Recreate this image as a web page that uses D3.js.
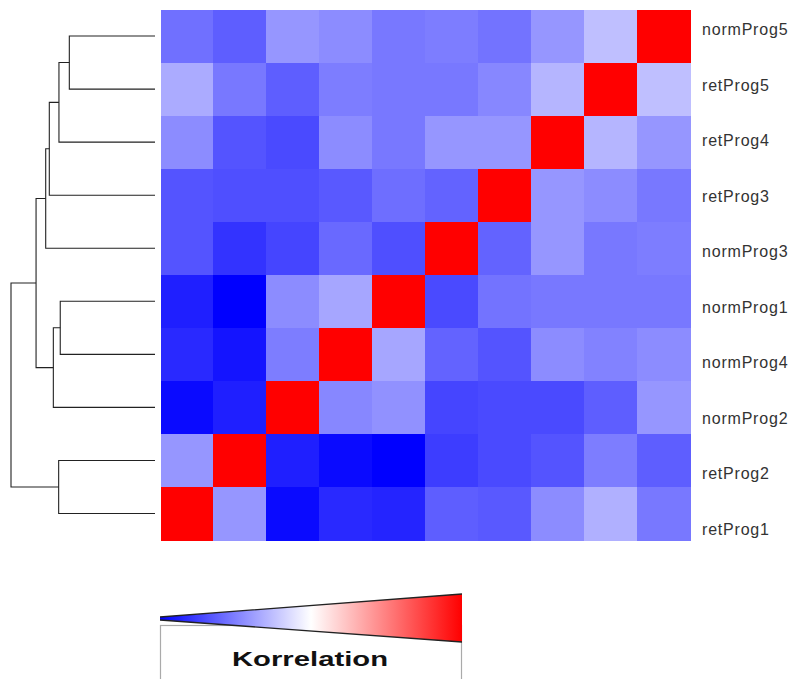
<!DOCTYPE html>
<html>
<head>
<meta charset="utf-8">
<script src="https://cdn.jsdelivr.net/npm/d3@7"></script>
<style>
  html, body { margin: 0; padding: 0; background: #fff; }
  svg { display: block; }
  text { font-family: "Liberation Sans", Arial, Helvetica, sans-serif; }
</style>
</head>
<body>
<svg id="chart" width="792" height="679"></svg>
<script>
// Sample order along the rows (top to bottom); columns run in the reverse order.
const rowNames = ["normProg5", "retProg5", "retProg4", "retProg3", "normProg3",
                  "normProg1", "normProg4", "normProg2", "retProg2", "retProg1"];
const colNames = rowNames.slice().reverse();

// Correlation values, one row per sample in rowNames order, columns in colNames order.
const normProg5 = [0.22, 0.185, 0.295, 0.275, 0.235, 0.245, 0.225, 0.295, 0.375, 1];
const retProg5  = [0.335, 0.235, 0.185, 0.245, 0.235, 0.235, 0.265, 0.355, 1, 0.375];
const retProg4  = [0.275, 0.165, 0.145, 0.275, 0.235, 0.295, 0.295, 1, 0.355, 0.295];
const retProg3  = [0.165, 0.155, 0.155, 0.175, 0.215, 0.195, 1, 0.295, 0.275, 0.235];
const normProg3 = [0.165, 0.10, 0.135, 0.205, 0.155, 1, 0.195, 0.295, 0.235, 0.245];
const normProg1 = [0.06, 0.0, 0.275, 0.325, 1, 0.145, 0.225, 0.235, 0.235, 0.235];
const normProg4 = [0.08, 0.04, 0.245, 1, 0.325, 0.195, 0.165, 0.275, 0.255, 0.275];
const normProg2 = [0.02, 0.06, 1, 0.265, 0.285, 0.135, 0.145, 0.145, 0.185, 0.295];
const retProg2  = [0.295, 1, 0.06, 0.02, 0.0, 0.12, 0.145, 0.165, 0.245, 0.185];
const retProg1  = [1, 0.295, 0.02, 0.08, 0.07, 0.185, 0.175, 0.275, 0.345, 0.235];
const matrix = [normProg5, retProg5, retProg4, retProg3, normProg3,
                normProg1, normProg4, normProg2, retProg2, retProg1];

// Row clustering: each merge joins two children (sample name or earlier merge index) at a height.
const merges = [
  ["normProg5", "retProg5", 0.595],
  [0, "retProg4", 0.667],
  [1, "retProg3", 0.734],
  [2, "normProg3", 0.759],
  ["normProg1", "normProg4", 0.658],
  [4, "normProg2", 0.706],
  [3, 5, 0.826],
  ["retProg2", "retProg1", 0.669],
  [6, 7, 1.0]
];

const legendTitle = "Korrelation";

const svg = d3.select("#chart");

// Heatmap
const x = d3.scaleBand().domain(colNames).range([160.5, 690]).padding(0);
const y = d3.scaleBand().domain(rowNames).range([9.5, 540]).padding(0);
const color = d3.scaleLinear().domain([0, 0.5, 1]).range(["#0000ff", "#ffffff", "#ff0000"]);

const cells = [];
matrix.forEach((row, i) => row.forEach((v, j) => cells.push({ r: rowNames[i], c: colNames[j], v })));

svg.append("g").selectAll("rect").data(cells).join("rect")
  .attr("x", d => x(d.c))
  .attr("y", d => y(d.r))
  .attr("width", x.bandwidth() + 0.5)
  .attr("height", y.bandwidth() + 0.5)
  .attr("fill", d => color(d.v))
  .attr("shape-rendering", "crispEdges");

// Row labels
const labelY = d3.scalePoint().domain(rowNames).range([35, 535]);
svg.append("g").selectAll("text").data(rowNames).join("text")
  .attr("x", 702)
  .attr("y", d => labelY(d))
  .attr("font-size", 16)
  .attr("letter-spacing", 0.8)
  .attr("fill", "#333")
  .text(d => d);

// Dendrogram
const hx = d3.scaleLinear().domain([0, 1]).range([155, 11]);
const nodePos = merges.map(() => null);
const pos = ch => typeof ch === "string"
  ? { x: hx(0), y: y(ch) + y.bandwidth() / 2 }
  : nodePos[ch];
const segs = [];
merges.forEach((m, k) => {
  const a = pos(m[0]), b = pos(m[1]);
  const nx = hx(m[2]);
  nodePos[k] = { x: nx, y: (a.y + b.y) / 2 };
  segs.push([[a.x, a.y], [nx, a.y], [nx, b.y], [b.x, b.y]]);
});
svg.append("g").selectAll("path").data(segs).join("path")
  .attr("d", d3.line())
  .attr("fill", "none")
  .attr("stroke", "#222")
  .attr("stroke-width", 1.1);

// Legend
const lg = svg.append("g");
const defs = svg.append("defs");
const grad = defs.append("linearGradient").attr("id", "corrGrad")
  .attr("gradientUnits", "userSpaceOnUse")
  .attr("x1", 160).attr("x2", 462).attr("y1", 0).attr("y2", 0);
[0, 0.5, 1].forEach(v => grad.append("stop")
  .attr("offset", v).attr("stop-color", color(v)));

lg.append("rect")
  .attr("x", 160.5).attr("y", 625.5).attr("width", 301).attr("height", 70)
  .attr("fill", "#fff").attr("stroke", "#aaa").attr("stroke-width", 1.2);

lg.append("path")
  .attr("d", "M160,617 L462,594 L462,642 L160,620 Z")
  .attr("fill", "url(#corrGrad)");
lg.append("path")
  .attr("d", "M160,617 L462,594 M160,620 L462,642")
  .attr("fill", "none").attr("stroke", "#222").attr("stroke-width", 1.3);

lg.append("text")
  .attr("x", 310).attr("y", 666)
  .attr("text-anchor", "middle")
  .attr("font-size", 21)
  .attr("font-weight", "bold")
  .attr("fill", "#111")
  .attr("textLength", 156)
  .attr("lengthAdjust", "spacingAndGlyphs")
  .text(legendTitle);
</script>
</body>
</html>
